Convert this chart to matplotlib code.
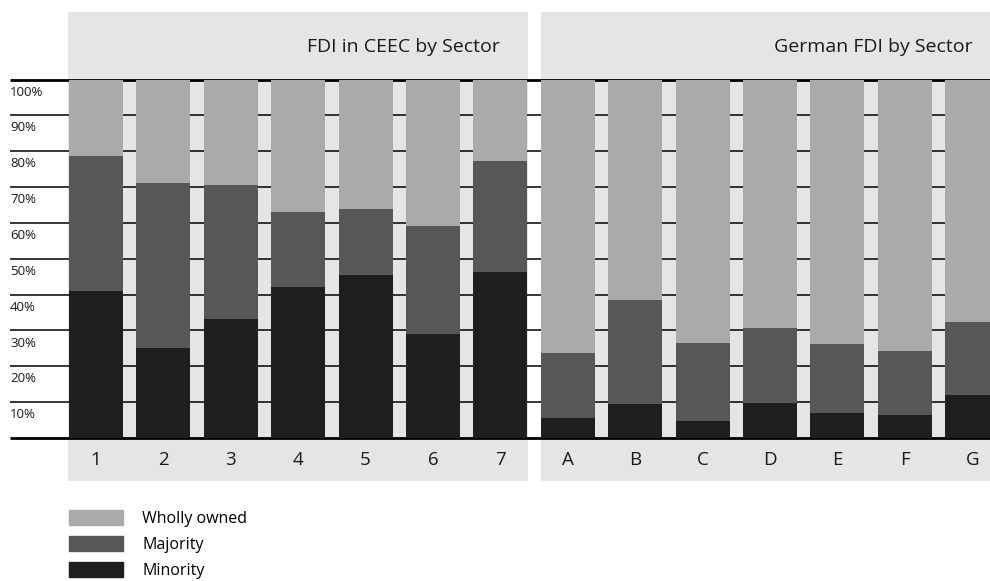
import numpy as np
import matplotlib.pyplot as plt
from matplotlib.patches import Patch, Rectangle

plt.rcParams['font.family'] = ['Open Sans', 'DejaVu Sans']

# data: share of foreign affiliates by ownership type (%)
categories = ['1', '2', '3', '4', '5', '6', '7', 'A', 'B', 'C', 'D', 'E', 'F', 'G']
minority = [41.0, 25.1, 33.2, 42.1, 45.5, 29.0, 46.3,
            5.7, 9.5, 4.8, 9.8, 7.0, 6.4, 12.0]
majority = [37.7, 46.1, 37.5, 21.0, 18.5, 30.1, 31.1,
            18.1, 29.0, 21.7, 20.9, 19.2, 17.9, 20.4]
wholly = [21.3, 28.8, 29.3, 36.9, 36.0, 40.9, 22.6,
          76.2, 61.5, 73.5, 69.3, 73.8, 75.7, 67.6]
panel_titles = ['FDI in CEEC by Sector', 'German FDI by Sector']
yticks = [10, 20, 30, 40, 50, 60, 70, 80, 90, 100]

c_whole = '#aaaaaa'
c_major = '#575757'
c_minor = '#1e1e1e'
c_bg = '#e5e5e5'

fig = plt.figure(figsize=(9.9, 5.81), dpi=100)
ax = fig.add_axes([0, 0, 1, 1])
ax.set_xlim(-1.424, 13.264)
ax.set_ylim(-39.9, 122.2)
ax.axis('off')

x = np.arange(len(categories))
minority = np.array(minority)
majority = np.array(majority)
wholly = np.array(wholly)

# panel backgrounds (header + plot + footer)
ax.add_patch(Rectangle((-0.41, -11.9), 6.82, 130.7, color=c_bg, zorder=0, lw=0))
ax.add_patch(Rectangle((6.6, -11.9), 7.0, 130.7, color=c_bg, zorder=0, lw=0))

# gridlines
ax.hlines(yticks[:-1], -1.275, 13.3, color='black', lw=1.1, zorder=1)
ax.hlines([0, 100], -1.275, 13.3, color='black', lw=2.0, zorder=1)

w = 0.8
ax.bar(x, minority, w, color=c_minor, zorder=2, label='Minority')
ax.bar(x, majority, w, bottom=minority, color=c_major, zorder=2, label='Majority')
ax.bar(x, wholly, w, bottom=minority + majority, color=c_whole, zorder=2,
       label='Wholly owned')

# y labels sit just below each line
for v in yticks:
    ax.text(-1.275, v - 3.5, f'{v}%', ha='left', va='center', fontsize=9.5,
            color='#1a1a1a')

# category labels in the footer
for xi, lab in zip(x, categories):
    ax.text(xi, -6.2, lab, ha='center', va='center', fontsize=13.5,
            color='#1a1a1a')

# panel headers
ax.text(5.99, 109, panel_titles[0], ha='right', va='center', fontsize=14,
        color='#1a1a1a')
ax.text(13.0, 109, panel_titles[1], ha='right', va='center', fontsize=14,
        color='#1a1a1a')

handles = [Patch(color=c_whole), Patch(color=c_major), Patch(color=c_minor)]
ax.legend(handles, ['Wholly owned', 'Majority', 'Minority'],
          loc='upper left', bbox_to_anchor=(69 / 990, 1 - 510 / 581),
          bbox_transform=fig.transFigure, frameon=False, fontsize=11.5,
          handlelength=3.4, handleheight=1.1, handletextpad=1.2,
          labelspacing=0.56, borderpad=0, borderaxespad=0)

fig.savefig('out.png', dpi=100)
